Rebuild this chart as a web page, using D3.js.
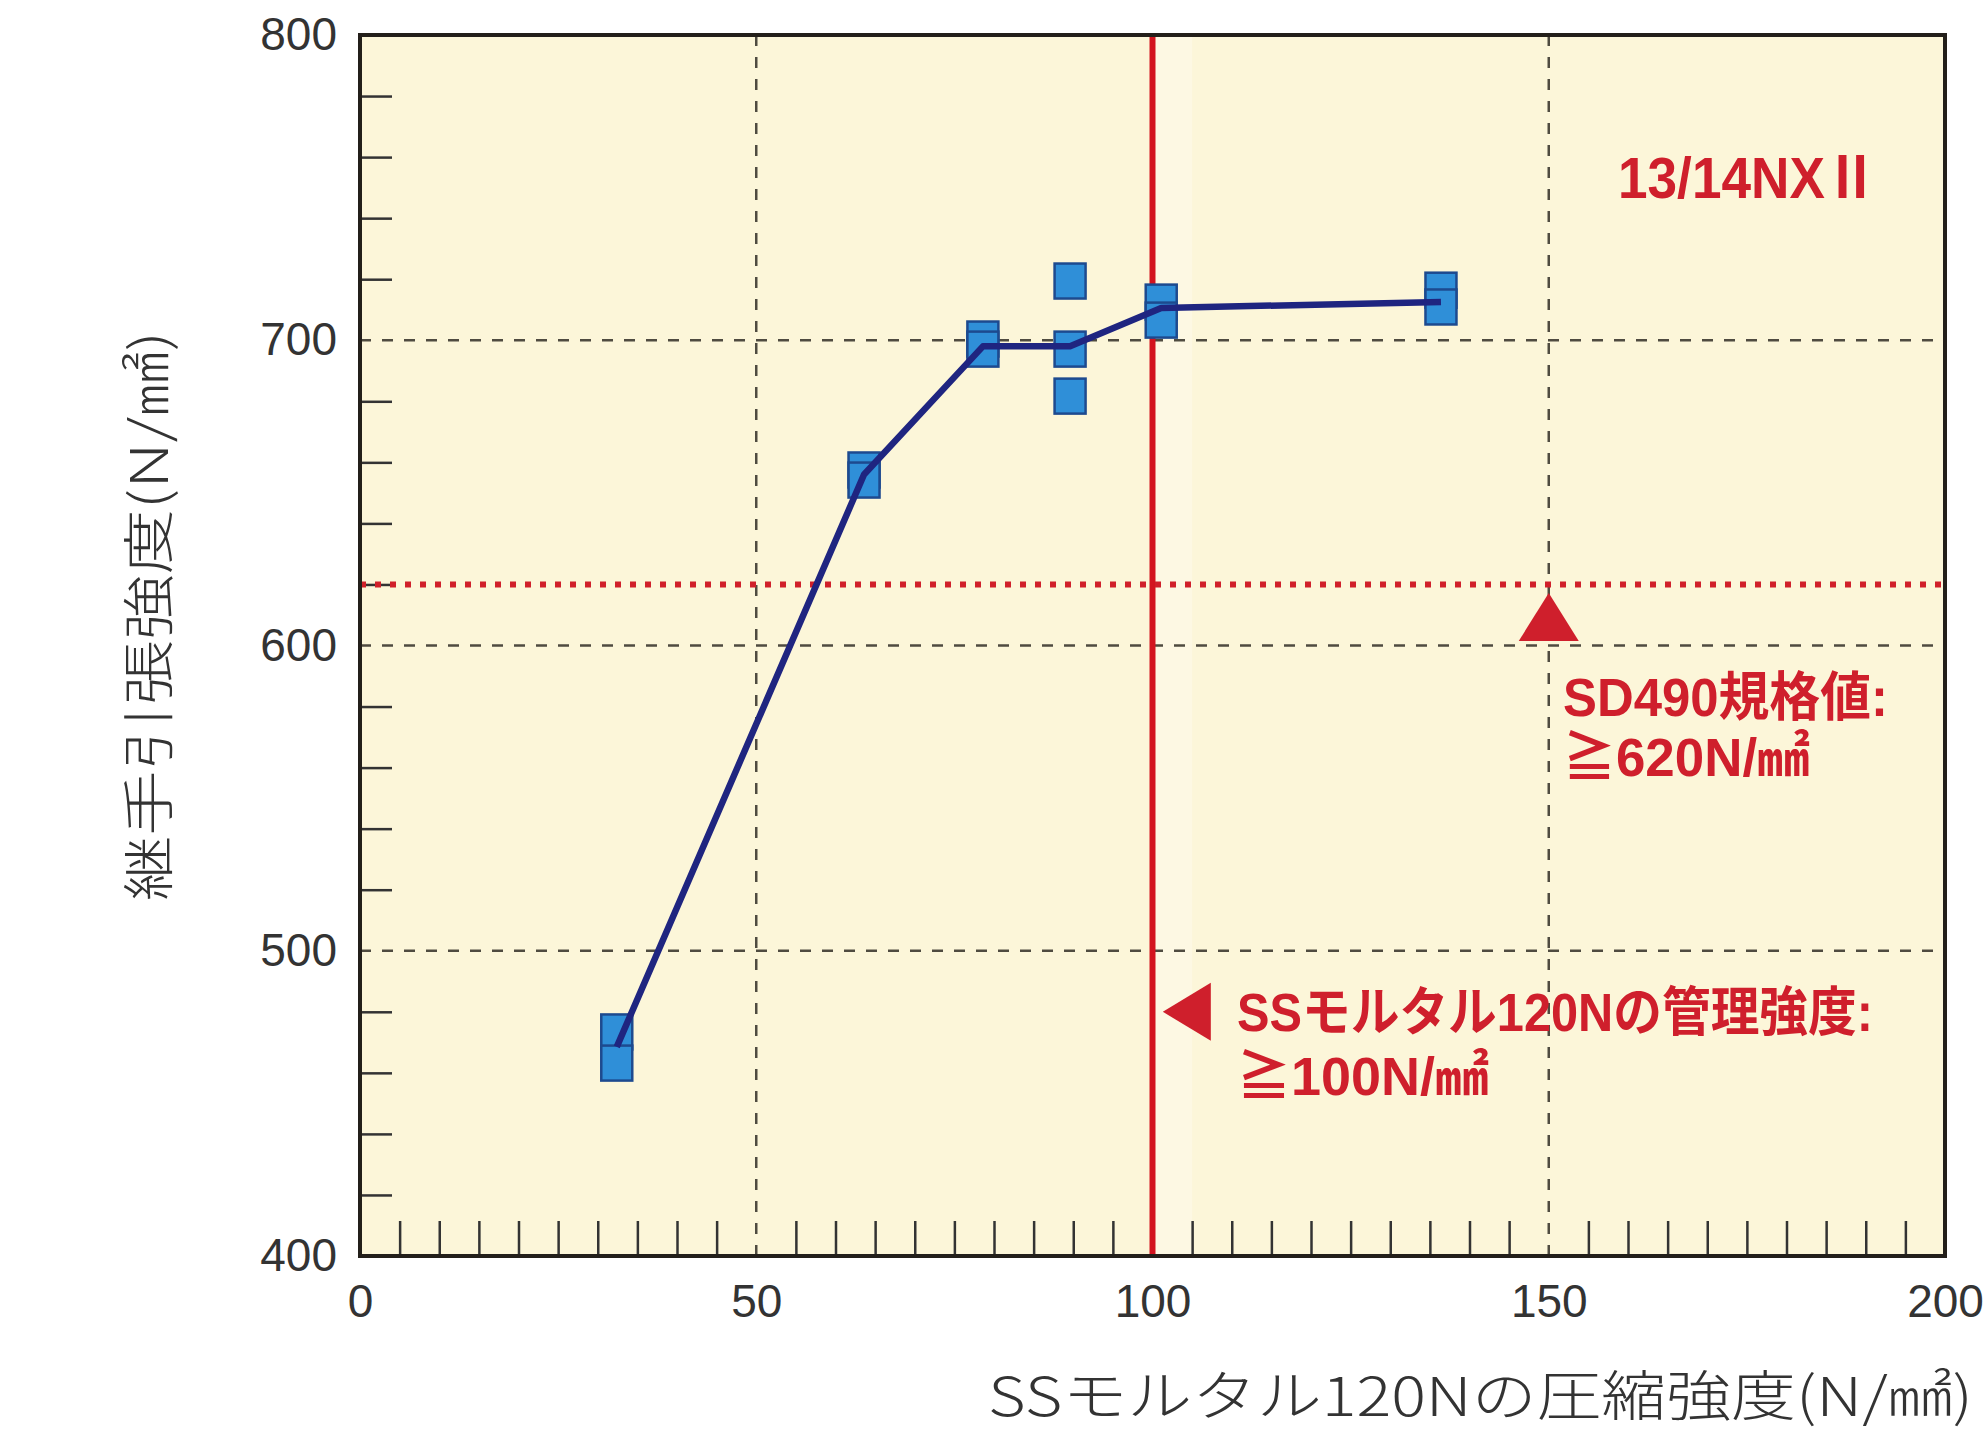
<!DOCTYPE html>
<html>
<head>
<meta charset="utf-8">
<script src="https://cdn.jsdelivr.net/npm/d3@7"></script>
<style>
  body { margin: 0; background: #fff; }
  svg { display: block; }
  .tick-label text { font-family: 'Liberation Sans', Arial, sans-serif; font-size: 46px; fill: #333; }
  .red-note { font-family: 'Liberation Sans', 'Noto Sans CJK JP', sans-serif; font-weight: 700; fill: #cf1f2c; }
  .axis-title { font-family: 'Noto Sans CJK JP', sans-serif; font-weight: 300; fill: #333; }
</style>
</head>
<body>
<div id="chart"></div>
<script>
// data
const groupX = [32.4, 63.6, 78.6, 89.6, 101.1, 136.4];
const lineY = [468.5, 656, 698, 698, 710.6, 712.5];
const sampleX = [32.4, 32.4, 63.6, 63.6, 78.6, 78.6, 89.6, 89.6, 89.6, 101.1, 101.1, 136.4, 136.4];
const sampleY = [473.4, 463.2, 657.5, 654.2, 700.4, 697.1, 719.4, 697.1, 681.7, 712.5, 706.6, 716.4, 710.9];
const xTicks = [0, 50, 100, 150, 200];
const yTicks = [400, 500, 600, 700, 800];
const specLimit = 620;   // SD490
const mortarLimit = 100; // SSモルタル 120N

const width = 1984, height = 1442;
const margin = { left: 360, right: 39, top: 35, bottom: 186 };

const svg = d3.select('#chart').append('svg')
  .attr('width', width)
  .attr('height', height);

const x = d3.scaleLinear().domain([0, 200]).range([margin.left, width - margin.right]);
const y = d3.scaleLinear().domain([400, 800]).range([height - margin.bottom, margin.top]);

// plot background
svg.append('rect')
  .attr('x', x(0)).attr('y', y(800))
  .attr('width', x(200) - x(0)).attr('height', y(400) - y(800))
  .attr('fill', '#fcf6d9');
svg.append('rect') // pale strip next to the red line
  .attr('x', x(100)).attr('y', y(800))
  .attr('width', x(105) - x(100)).attr('height', y(400) - y(800))
  .attr('fill', '#fdf8e3');

// minor ticks (inside)
svg.append('g')
  .attr('transform', `translate(${x(0)},0)`)
  .call(d3.axisLeft(y).tickValues(d3.range(420, 800, 20).filter(v => v % 100)).tickSize(-32).tickFormat(''))
  .call(g => g.select('.domain').remove())
  .call(g => g.selectAll('line').attr('stroke', '#333').attr('stroke-width', 2.5));

svg.append('g')
  .attr('transform', `translate(0,${y(400)})`)
  .call(d3.axisBottom(x).tickValues(d3.range(5, 200, 5).filter(v => v % 50)).tickSize(-35).tickFormat(''))
  .call(g => g.select('.domain').remove())
  .call(g => g.selectAll('line').attr('stroke', '#333').attr('stroke-width', 2.5));

// dashed grid
const grid = svg.append('g')
  .attr('stroke', '#4f4b40')
  .attr('stroke-width', 2.5)
  .attr('stroke-dasharray', '11 11');
grid.selectAll('line.gx').data([50, 100, 150]).enter().append('line')
  .attr('class', 'gx')
  .attr('x1', d => x(d)).attr('x2', d => x(d))
  .attr('y1', y(400)).attr('y2', y(800));
grid.selectAll('line.gy').data([500, 600, 700]).enter().append('line')
  .attr('class', 'gy')
  .attr('y1', d => y(d)).attr('y2', d => y(d))
  .attr('x1', x(0)).attr('x2', x(200));

// reference lines
svg.append('line')
  .attr('x1', x(mortarLimit)).attr('x2', x(mortarLimit))
  .attr('y1', y(400)).attr('y2', y(800))
  .attr('stroke', '#d3141f').attr('stroke-width', 6);

svg.append('line')
  .attr('x1', x(0)).attr('x2', x(200))
  .attr('y1', y(specLimit)).attr('y2', y(specLimit))
  .attr('stroke', '#d0202a').attr('stroke-width', 6)
  .attr('stroke-dasharray', '6 9');

// frame
svg.append('rect')
  .attr('x', x(0)).attr('y', y(800))
  .attr('width', x(200) - x(0)).attr('height', y(400) - y(800))
  .attr('fill', 'none').attr('stroke', '#231f1a').attr('stroke-width', 4);

// samples
svg.append('g').selectAll('rect').data(sampleX.map((v, i) => [v, sampleY[i]])).enter()
  .append('rect')
    .attr('x', d => x(d[0]) - 15.5)
    .attr('y', d => y(d[1]) - 17.5)
    .attr('width', 31).attr('height', 35)
    .attr('fill', '#2f8fd8')
    .attr('stroke', '#1d4a8f').attr('stroke-width', 2.5);

// mean line
svg.append('path')
  .datum(groupX.map((v, i) => [v, lineY[i]]))
  .attr('fill', 'none')
  .attr('stroke', '#1f2580').attr('stroke-width', 6.5)
  .attr('stroke-linejoin', 'round')
  .attr('d', d3.line().x(d => x(d[0])).y(d => y(d[1])));

// tick labels
svg.append('g')
  .attr('class', 'tick-label')
  .attr('transform', `translate(${x(0)},0)`)
  .call(d3.axisLeft(y).tickValues(yTicks).tickSize(0).tickPadding(23))
  .call(g => g.select('.domain').remove());

svg.append('g')
  .attr('class', 'tick-label')
  .attr('transform', `translate(0,${y(400)})`)
  .call(d3.axisBottom(x).tickValues(xTicks).tickSize(0).tickPadding(28))
  .call(g => g.select('.domain').remove());

// axis titles
svg.append('text')
  .attr('class', 'axis-title')
  .attr('x', 988).attr('y', 1416)
  .attr('font-size', 54)
  .attr('textLength', 985).attr('lengthAdjust', 'spacingAndGlyphs')
  .text('SSモルタル120Nの圧縮強度(N/㎟)');

svg.append('text')
  .attr('class', 'axis-title')
  .attr('transform', 'translate(168,616) rotate(-90)')
  .attr('text-anchor', 'middle')
  .attr('font-size', 52)
  .attr('textLength', 570).attr('lengthAdjust', 'spacingAndGlyphs')
  .text('継手引張強度(N/㎟)');

// annotations
const redFill = '#cf1f2c';
const upTip = [x(150), y(617.2)];
svg.append('path')
  .attr('d', d3.line()([upTip, [upTip[0] - 30, upTip[1] + 48], [upTip[0] + 30, upTip[1] + 48]]) + 'Z')
  .attr('fill', redFill);

const leftTip = [x(101.3), y(480)];
svg.append('path')
  .attr('d', d3.line()([leftTip, [leftTip[0] + 48, leftTip[1] - 29], [leftTip[0] + 48, leftTip[1] + 29]]) + 'Z')
  .attr('fill', redFill);

const notes = [
  { lines: ['13/14NXⅡ'], lens: [260], x: 1618, y: 198, size: 58, gap: 0 },
  { lines: ['SD490規格値:', '≧620N/㎟'], lens: [325, 247], x: 1563, y: 716, size: 53, gap: 60 },
  { lines: ['SSモルタル120Nの管理強度:', '≧100N/㎟'], lens: [636, 252], x: 1237, y: 1031, size: 53, gap: 64 }
];
const noteText = svg.append('g').selectAll('text').data(notes).enter()
  .append('text')
    .attr('class', 'red-note')
    .attr('x', d => d.x).attr('y', d => d.y)
    .attr('font-size', d => d.size);
noteText.selectAll('tspan').data(d => d.lines.map((t, i) => ({ t, i, len: d.lens[i], x: d.x, gap: d.gap }))).enter()
  .append('tspan')
    .attr('x', d => d.x)
    .attr('dy', d => d.i ? d.gap : 0)
    .attr('textLength', d => d.len).attr('lengthAdjust', 'spacingAndGlyphs')
    .text(d => d.t);
</script>
</body>
</html>
